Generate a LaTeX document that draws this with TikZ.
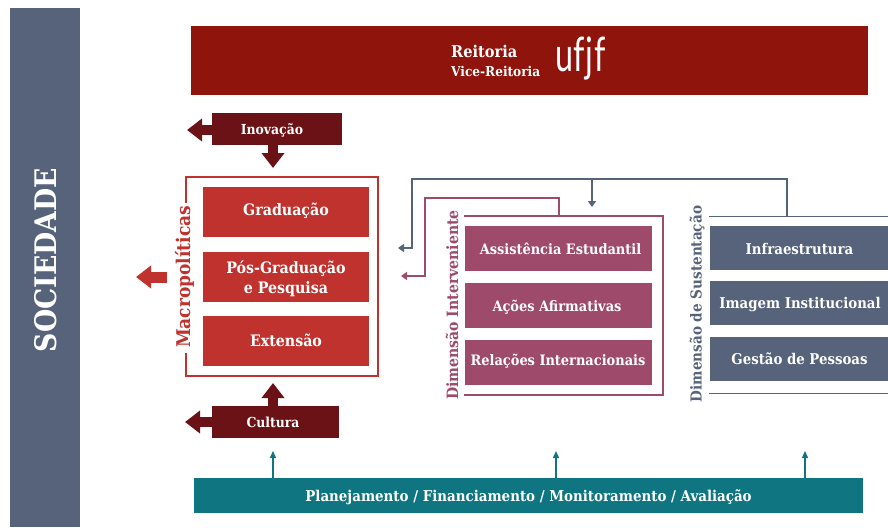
\documentclass[tikz,border=0pt]{standalone}
\usepackage{fontspec}
\usepackage{graphicx}
\setmainfont{DejaVu Serif Condensed}
\newfontfamily\logofont{Lato}
\usetikzlibrary{arrows.meta}
\definecolor{slatec}{HTML}{56637A}
\definecolor{reitc}{HTML}{8F140C}
\definecolor{darkc}{HTML}{6B1216}
\definecolor{redc}{HTML}{BF322E}
\definecolor{plumc}{HTML}{9E4A6B}
\definecolor{tealc}{HTML}{0F7681}
\newcommand{\fsz}[1]{\fontsize{#1}{#1}\selectfont}
\tikzset{
  lbl/.style={text=white,align=center,inner sep=0pt,outer sep=0pt},
  redbox/.style={lbl,fill=redc,minimum width=166,minimum height=50,font=\bfseries\fsz{15.8}},
  plumbox/.style={lbl,fill=plumc,minimum width=187,minimum height=45,font=\bfseries\fsz{14.4}},
  slatebox/.style={lbl,fill=slatec,minimum width=178,minimum height=44,font=\bfseries\fsz{14.8}},
  darkbox/.style={lbl,fill=darkc},
  darktext/.style={lbl,font=\bfseries\fsz{13.8}},
  blockred/.style={line width=11,draw=redc,-{Triangle[width=22,length=15]}},
  blockdark/.style={line width=10,draw=darkc,-{Triangle[width=22,length=15]}},
  frameline/.style={line width=1.8,line cap=butt,line join=miter},
  vlab/.style={rotate=90,inner sep=0pt},
  conn/.style={line width=1.8,line join=miter,-{Triangle[width=8,length=6]}},
  tealarrow/.style={line width=1.4,draw=tealc,-{Triangle[width=6,length=7]}},
  framebox/.style={inner sep=0pt,outer sep=0pt}
}
\begin{document}
\begin{tikzpicture}[x=1pt,y=-1pt]
\useasboundingbox (0,0) rectangle (888,527);
\fill[white] (0,0) rectangle (888,527);
% society
\node[fill=slatec,minimum width=70,minimum height=519,inner sep=0pt] (soc) at (45,267.5) {};
\node[rotate=90,text=white,font=\bfseries\fsz{29.7},inner sep=0pt] (soct) at (46,260) {SOCIEDADE};
% rectorate
\node[fill=reitc,minimum width=677,minimum height=69,inner sep=0pt] (reit) at (529.5,60.5) {};
\node[text=white,font=\bfseries\fsz{16.2},anchor=base west,inner sep=0pt] (reit1) at (451,58) {Reitoria};
\node[text=white,font=\bfseries\fsz{13.5},anchor=base west,inner sep=0pt] (reit2) at (451,76) {Vice-Reitoria};
\node[text=white,font=\logofont\fsz{38},anchor=base west,inner sep=0pt] (logo) at (555,71) {\scalebox{.85}[1.25]{uf\kern1pt j\kern1pt f}};
% innovation
\node[darkbox,minimum width=130,minimum height=32] (ino) at (277,129) {};
\node[darktext] (inot) at (272,130) {Inovação};
\coordinate (inoL) at (187,130);
\coordinate (inoD) at (273,168);
\draw[blockdark] (ino.west |- inoL) -- (inoL);
\draw[blockdark] (inoD |- ino.south) -- (inoD);
% macro frame
\node[framebox,minimum width=192,minimum height=199] (macro) at (282,276.5) {};
\draw[frameline,draw=redc] (186,203) -- (macro.north west) -- (macro.north east) -- (macro.south east) -- (macro.south west) -- (186,353);
\node[vlab,text=redc,font=\bfseries\fsz{18.9}] (macrot) at (184.5,277) {Macropolíticas};
\node[redbox] (grad) at (286,212) {};
\node[lbl,font=\bfseries\fsz{15.8}] (gradt) at (286,211) {Graduação};
\node[redbox] (pos) at (286,277) {};
\node[lbl,font=\bfseries\fsz{15.8}] (post) at (286,278.5) {Pós-Graduação\\[4pt]e Pesquisa};
\node[redbox] (ext) at (286,341) {};
\node[lbl,font=\bfseries\fsz{15.8}] (extt) at (286,340) {Extensão};
\coordinate (macL) at (136,277);
\coordinate (macS) at (167,277);
\draw[blockred] (macS) -- (macL);
% culture
\node[darkbox,minimum width=127,minimum height=32] (cul) at (275.5,422) {};
\node[darktext] (cult) at (273,422) {Cultura};
\coordinate (culL) at (185,422);
\coordinate (culU) at (273,383);
\draw[blockdark] (cul.west) -- (culL);
\draw[blockdark] (culU |- cul.north) -- (culU);
% intervening
\node[framebox,minimum width=199,minimum height=179] (fri) at (563.5,305.5) {};
\draw[frameline,draw=plumc] (fri.north west) -- (fri.north east) -- (fri.south east) -- (fri.south west);
\node[vlab,text=plumc,font=\bfseries\fsz{15.6}] (frit) at (452,305) {Dimensão Interveniente};
\node[plumbox] (ass) at (558.5,248) {};
\node[lbl,font=\bfseries\fsz{14.4}] (asst) at (560.5,249) {Assistência Estudantil};
\node[plumbox] (aco) at (558.5,305.5) {};
\node[lbl,font=\bfseries\fsz{14.4}] (acot) at (557,307) {Ações Afirmativas};
\node[plumbox] (rel) at (558.5,362.5) {};
\node[lbl,font=\bfseries\fsz{14.4}] (relt) at (558,361.5) {Relações Internacionais};
% sustaining
\node[framebox,minimum width=179,minimum height=177] (frs) at (798.5,305) {};
\draw[frameline,draw=slatec] (frs.north west) -- (frs.north east);
\draw[frameline,draw=slatec] (frs.south west) -- (frs.south east);
\node[vlab,text=slatec,font=\bfseries\fsz{15.1}] (frst) at (697,304) {Dimensão de Sustentação};
\node[slatebox] (inf) at (799,247.5) {};
\node[lbl,font=\bfseries\fsz{14.8}] (inft) at (799.5,249) {Infraestrutura};
\node[slatebox] (ima) at (799,302.5) {};
\node[lbl,font=\bfseries\fsz{14.8}] (imat) at (800,305) {Imagem Institucional};
\node[slatebox] (ges) at (799,359) {};
\node[lbl,font=\bfseries\fsz{14.8}] (gest) at (799.5,358.5) {Gestão de Pessoas};
% connectors
\coordinate (sT) at (787,179);
\coordinate (sL) at (412,179);
\coordinate (sA) at (398,248);
\coordinate (sD) at (592,207);
\coordinate (pT) at (559,198);
\coordinate (pL) at (425,198);
\coordinate (pA) at (401,276);
\draw[conn,draw=slatec] (sT |- frs.north) -- (sT) -- (sL) -- (sL |- sA) -- (sA);
\draw[conn,draw=slatec] (sD |- sT) -- (sD);
\draw[conn,draw=plumc] (pT |- fri.north) -- (pT) -- (pL) -- (pL |- pA) -- (pA);
% planning
\node[fill=tealc,minimum width=669,minimum height=35,inner sep=0pt,outer sep=0pt] (plan) at (528.5,495.5) {};
\node[lbl,font=\bfseries\fsz{14.9}] (plant) at (528.5,497) {Planejamento / Financiamento / Monitoramento / Avaliação};
\coordinate (a1) at (273,451);
\coordinate (a2) at (556,451);
\coordinate (a3) at (805,451);
\draw[tealarrow] (a1 |- plan.north) -- (a1);
\draw[tealarrow] (a2 |- plan.north) -- (a2);
\draw[tealarrow] (a3 |- plan.north) -- (a3);
\end{tikzpicture}
\end{document}
